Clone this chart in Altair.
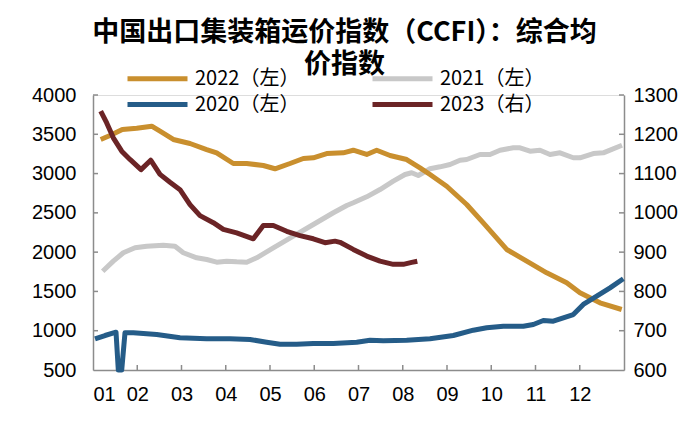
import altair as alt
import pandas as pd

# ---- data (x = month position, 1.0 = start of Jan, 13.0 = end of Dec) ----
s2021_m = [1.219, 1.459, 1.685, 1.949, 2.214, 2.589, 2.853, 3.041, 3.344, 3.569, 3.795, 4.021,
           4.247, 4.473, 4.699, 5.075, 5.527, 5.979, 6.431, 6.734, 6.882, 7.185, 7.486, 7.786,
           8.051, 8.202, 8.351, 8.616, 8.842, 9.068, 9.294, 9.445, 9.746, 9.972, 10.198, 10.498,
           10.650, 10.876, 11.102, 11.328, 11.554, 11.854, 12.005, 12.306, 12.532, 12.955]
s2021_v = [1757, 1885, 1992, 2055, 2076, 2088, 2076, 1992, 1928, 1906, 1872, 1885,
           1877, 1872, 1928, 2055, 2203, 2352, 2501, 2594, 2628, 2704, 2797, 2903,
           2988, 3010, 2975, 3061, 3086, 3115, 3170, 3179, 3243, 3243, 3297, 3328,
           3328, 3285, 3297, 3243, 3264, 3201, 3201, 3255, 3264, 3360]

s2022_m = [1.174, 1.384, 1.662, 1.988, 2.327, 2.514, 2.815, 3.192, 3.569, 3.795, 4.171, 4.473,
           4.849, 5.113, 5.452, 5.753, 5.979, 6.281, 6.656, 6.882, 7.185, 7.411, 7.712, 8.089,
           8.390, 8.616, 8.993, 9.445, 9.820, 10.349, 10.801, 11.253, 11.705, 12.005, 12.457, 12.948]
s2022_v = [3434, 3484, 3561, 3577, 3603, 3539, 3434, 3383, 3306, 3264, 3128, 3128,
           3103, 3061, 3128, 3192, 3201, 3255, 3264, 3297, 3243, 3297, 3230, 3179,
           3073, 2988, 2839, 2606, 2373, 2034, 1885, 1737, 1610, 1483, 1355, 1270]

s2020_m = [1.045, 1.271, 1.520, 1.572, 1.649, 1.723, 1.911, 2.440, 2.966, 3.569, 4.096, 4.548,
           4.925, 5.226, 5.603, 5.979, 6.431, 6.959, 7.260, 7.560, 8.089, 8.616, 9.142, 9.594,
           9.897, 10.273, 10.725, 10.951, 11.177, 11.402, 11.628, 11.854, 12.080, 12.383, 12.684, 12.984]
s2020_v = [897, 939, 981, 500, 500, 973, 973, 952, 910, 897, 897, 888,
           854, 828, 828, 837, 837, 854, 879, 872, 879, 897, 939, 1007,
           1037, 1057, 1057, 1079, 1130, 1121, 1164, 1206, 1334, 1439, 1546, 1661]

s2023_m = [1.174, 1.310, 1.459, 1.649, 1.836, 2.085, 2.304, 2.514, 2.740, 2.966, 3.192, 3.418,
           3.719, 3.945, 4.247, 4.623, 4.849, 5.075, 5.377, 5.678, 5.979, 6.243, 6.469, 6.582,
           6.882, 7.185, 7.486, 7.786, 8.012, 8.202, 8.329]
s2023_v = [1259, 1229, 1191, 1157, 1136, 1110, 1134, 1098, 1078, 1059, 1021, 993,
           975, 958, 949, 934, 968, 968, 953, 942, 934, 924, 928, 925,
           907, 890, 877, 869, 869, 874, 877]

names = ["2022（左）", "2021（左）", "2020（左）", "2023（右）"]
colors = ["#C98F2E", "#C8C8C8", "#255C88", "#6B2426"]
month_ticks = list(range(1, 13))
left_ticks = [500, 1000, 1500, 2000, 2500, 3000, 3500, 4000]
right_ticks = [600, 700, 800, 900, 1000, 1100, 1200, 1300]

rows = []
for n, ms, vs in [(names[1], s2021_m, s2021_v), (names[0], s2022_m, s2022_v), (names[2], s2020_m, s2020_v)]:
    for i, (m, v) in enumerate(zip(ms, vs)):
        rows.append({"series": n, "m": m, "v": v, "i": i})
left_df = pd.DataFrame(rows)
right_df = pd.DataFrame({"series": names[3], "m": s2023_m, "v": s2023_v, "i": range(len(s2023_m))})
xt_df = pd.DataFrame({"m": month_ticks[1:]})
lt_df = pd.DataFrame({"v": left_ticks[1:]})
rt_df = pd.DataFrame({"v": right_ticks[1:]})

W, H = 531, 275
FONT = "Liberation Sans"
CJK = "Noto Sans CJK SC"
AXC = "#8C8C8C"

color = alt.Color("series:N",
                  scale=alt.Scale(domain=names, range=colors),
                  legend=alt.Legend(orient="none", legendX=52, legendY=-29, direction="horizontal",
                                    columns=2, columnPadding=62, rowPadding=3, title=None,
                                    symbolType="M-3,0H3", symbolSize=400, symbolStrokeWidth=5,
                                    labelFont=CJK, labelFontSize=20, labelColor="black",
                                    labelOffset=25, labelLimit=300))

xenc = alt.X("m:Q", scale=alt.Scale(domain=[1, 13], nice=False, zero=False),
             axis=alt.Axis(values=month_ticks, title=None, grid=False, ticks=False,
                           labelExpr="datum.value < 10 ? '0' + datum.value : '' + datum.value",
                           labelFont=FONT, labelFontSize=20, labelColor="black", labelPadding=14,
                           domainColor=AXC, domainWidth=1.5))

ly = alt.Y("v:Q", scale=alt.Scale(domain=[500, 4000], nice=False, zero=False),
           axis=alt.Axis(values=left_ticks, title=None, grid=False, orient="left", ticks=False,
                         format="d",
                         labelFont=FONT, labelFontSize=20, labelColor="black", labelPadding=17,
                         domainColor=AXC, domainWidth=1.5))
ry = alt.Y("v:Q", scale=alt.Scale(domain=[600, 1300], nice=False, zero=False),
           axis=alt.Axis(values=right_ticks, title=None, grid=False, orient="right", ticks=False,
                         format="d",
                         labelFont=FONT, labelFontSize=20, labelColor="black", labelPadding=9,
                         domainColor=AXC, domainWidth=1.5))

left_lines = alt.Chart(left_df).mark_line(strokeWidth=5, strokeJoin="round").encode(
    x=xenc, y=ly, color=color, order="i:Q")
left_tk = alt.Chart(lt_df).mark_rule(color=AXC, strokeWidth=1.5).encode(
    y=ly, x=alt.value(0), x2=alt.value(5))
x_tk = alt.Chart(xt_df).mark_rule(color=AXC, strokeWidth=1.5).encode(
    x=xenc, y=alt.value(H), y2=alt.value(H - 5))

right_line = alt.Chart(right_df).mark_line(strokeWidth=5, strokeJoin="round").encode(
    x=xenc, y=ry, color=color, order="i:Q")
right_tk = alt.Chart(rt_df).mark_rule(color=AXC, strokeWidth=1.5).encode(
    y=ry, x=alt.value(W), x2=alt.value(W - 5))

left = alt.layer(left_tk, x_tk, left_lines)
right = alt.layer(right_tk, right_line)

chart = alt.layer(left, right).resolve_scale(y="independent").properties(
    width=W, height=H,
    autosize=alt.AutoSizeParams(type="none"),
    padding={"left": 85, "top": 87, "right": 68, "bottom": 54},
    title=alt.TitleParams(["中国出口集装箱运价指数（CCFI）：综合均", "价指数"],
                          font=CJK, fontSize=27, fontWeight="bold", color="black",
                          lineHeight=32, anchor="middle", offset=24, dx=-14, dy=37),
).configure_view(stroke=None).configure(background="white")

chart.save("out.html", embed_options={"renderer": "svg", "actions": False})
